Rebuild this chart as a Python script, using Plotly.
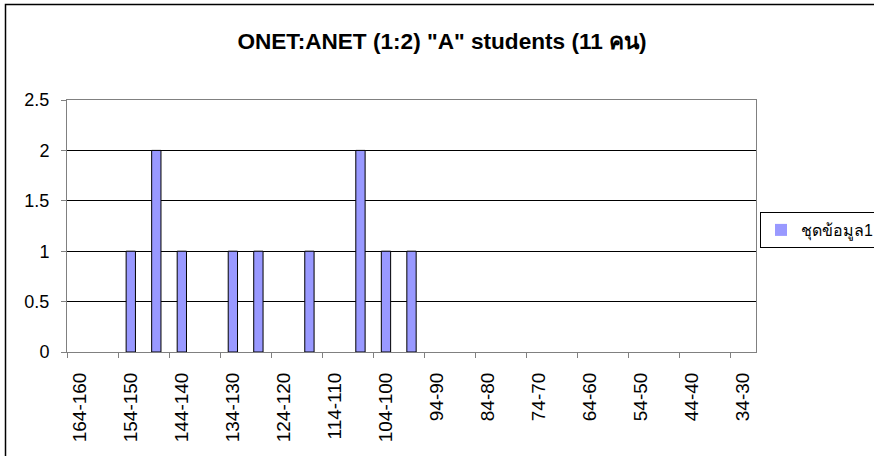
import plotly.graph_objects as go

# Categories (score ranges, step 5, from 164-160 down to 34-30)
categories = ["164-160", "159-155", "154-150", "149-145", "144-140", "139-135",
              "134-130", "129-125", "124-120", "119-115", "114-110", "109-105",
              "104-100", "99-95", "94-90", "89-85", "84-80", "79-75", "74-70",
              "69-65", "64-60", "59-55", "54-50", "49-45", "44-40", "39-35", "34-30"]
counts = [0, 0, 1, 2, 1, 0, 1, 1, 0, 1, 0, 2, 1, 1, 0, 0, 0, 0, 0, 0, 0, 0, 0, 0, 0, 0, 0]
series_name = "ชุดข้อมูล1"
title_text = 'ONET:ANET (1:2) "A" students (11 คน)'
y_ticks = [0, 0.5, 1, 1.5, 2, 2.5]

FONT = "Liberation Sans, Arial, sans-serif"
W, H = 874, 456
L, R, T, B = 67, 118, 100, 104
pw, ph = W - L - R, H - T - B

def px_x(p):
    return (p - L) / pw

def px_y(p):
    return (H - B - p) / ph

n = len(categories)

fig = go.Figure()
fig.add_trace(go.Bar(
    x=categories, y=counts, name=series_name,
    marker=dict(color="#9999FF",
                line=dict(color="#000000", width=[1 if v else 0 for v in counts])),
    showlegend=True,
))
# invisible trace carrying the boundary tick axis
fig.add_trace(go.Scatter(x=[-0.5, n - 0.5], y=[0, 0], xaxis="x2", mode="lines",
                         line=dict(width=0), hoverinfo="skip", showlegend=False))

fig.update_layout(
    width=W, height=H,
    margin=dict(l=L, r=R, t=T, b=B, autoexpand=False),
    paper_bgcolor="white", plot_bgcolor="white",
    font=dict(family=FONT, color="#000000", size=17),
    bargap=0.635,
    title=dict(text="<b>" + title_text + "</b>", font=dict(size=22.6, family=FONT),
               x=442 / W, xref="container", xanchor="center",
               y=1 - 41 / H, yref="container", yanchor="middle"),
    xaxis=dict(type="category", categoryorder="array", categoryarray=categories,
               range=[-0.5, n - 0.5],
               tickvals=categories[::2], ticktext=categories[::2],
               tickangle=-90, tickfont=dict(size=19),
               ticks="", showgrid=False, zeroline=False,
               showline=True, linecolor="#808080", linewidth=1, mirror=True,
               ticklabelstandoff=12),
    xaxis2=dict(overlaying="x", anchor="y", side="bottom", range=[-0.5, n - 0.5],
                tickvals=[i - 0.5 for i in range(0, n, 2)],
                ticks="outside", ticklen=5, tickcolor="#808080", tickwidth=1,
                showticklabels=False, showgrid=False, zeroline=False, showline=False),
    yaxis=dict(range=[0, 2.5], tickvals=y_ticks, ticktext=[f"{v:g}" for v in y_ticks],
               showgrid=True, gridcolor="#000000", gridwidth=1,
               zeroline=False, showline=True, linecolor="#808080", linewidth=1, mirror=True,
               ticks="outside", ticklen=5, tickcolor="#808080",
               tickfont=dict(size=18), ticklabelstandoff=8),
    legend=dict(x=px_x(760), y=px_y(230), xanchor="left", yanchor="middle",
                bordercolor="#000000", borderwidth=1, bgcolor="white",
                font=dict(size=16, family=FONT), itemwidth=30),
    shapes=[dict(type="rect", xref="paper", yref="paper",
                 x0=px_x(5.5), x1=px_x(W + 20), y0=px_y(H + 20), y1=px_y(4.5),
                 line=dict(color="#000000", width=1.5), fillcolor="rgba(0,0,0,0)",
                 layer="below")],
)

fig.write_html("out.html", config={"displayModeBar": False},
               post_script="document.body.style.margin='0';document.body.style.overflow='hidden';")
